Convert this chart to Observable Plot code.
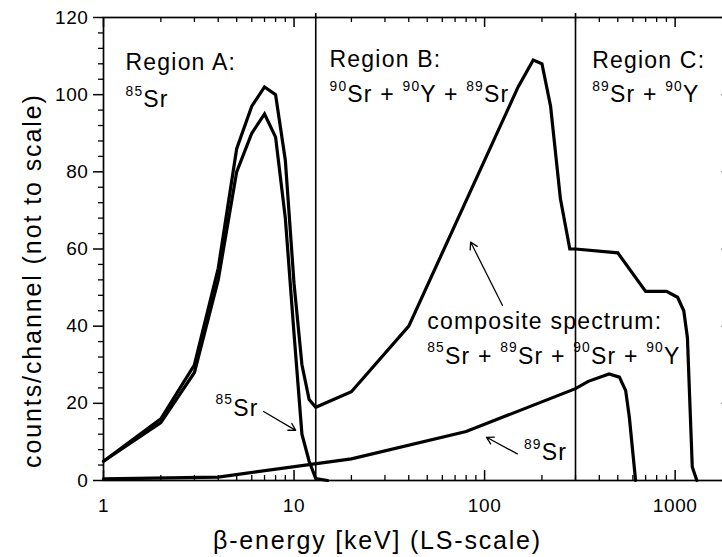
<!DOCTYPE html>
<html><head><meta charset="utf-8">
<script src="https://cdn.jsdelivr.net/npm/d3@7"></script>
<script src="https://cdn.jsdelivr.net/npm/@observablehq/plot@0.6"></script>
<style>body{margin:0;background:#fff}</style>
</head><body><div id="chart"></div>
<script>
// Composite spectrum 85Sr + 89Sr + 90Sr + 90Y
const compositeE = [1,2,3,4,5,6,7,8,9,10,11,12,13,20,40,150,180,200,222,250,280,300,500,700,900,1030,1110,1160,1230,1300];
const compositeC = [5,16,30,55,86,97,102,100,83,51,30,21,19,23,40,102,109,108,97,73,60,60,59,49,49,47.5,44,37,3.5,0];
// 85Sr spectrum
const sr85E = [1,2,3,4,5,6,7,8,9,10,11,12,13,15];
const sr85C = [5,15,28,52,80,90,95,89,68,38,12,5,0.5,0];
// 89Sr spectrum
const sr89E = [1,4,20,80,300,350,450,510,550,575,620];
const sr89C = [0.4,0.9,5.6,12.7,23.8,25.7,27.6,26.8,23.3,16.4,0];
// Region boundaries (keV)
const regionBounds = [13, 300];
// Ticks
const xMajor = [1, 10, 100, 1000];
const xMinor = [2,3,4,5,6,7,8,9,20,30,40,50,60,70,80,90,200,300,400,500,600,700,800,900];
const yMajor = [0, 20, 40, 60, 80, 100, 120];
const yMinor = d3.range(0, 121, 4).filter(v => v % 20 !== 0);
// Annotations
const labelText = ["Region A:", "^{85}Sr", "Region B:", "^{90}Sr + ^{90}Y + ^{89}Sr", "Region C:", "^{89}Sr + ^{90}Y",
  "composite spectrum:", "^{85}Sr + ^{89}Sr + ^{90}Sr + ^{90}Y", "^{85}Sr", "^{89}Sr"];
const labelE = [1.305, 1.305, 15.36, 15.36, 367, 367, 50, 50, 3.87, 160.9];
const labelC = [106.3, 96.8, 107.3, 98, 107, 98, 39.3, 30.2, 16.8, 5.2];
const arrowFromE = [6.92, 148.5, 124];
const arrowFromC = [17.9, 6.9, 45.4];
const arrowToE = [10.2, 102.4, 84.5];
const arrowToC = [13, 11.2, 61.8];
const xLabel = "β-energy [keV] (LS-scale)";
const yLabel = "counts/channel (not to scale)";
const xLabelAt = 27.4;
const yLabelAt = 51.8;

const W = 722, H = 557, mL = 103, mR = -10, mT = 17, mB = 77;
const frameH = H - mT - mB, frameW = W - mL - mR;
const FS = 23;

const lineData = [
  ...compositeE.map((e, i) => ({s: "composite", e, c: compositeC[i]})),
  ...sr85E.map((e, i) => ({s: "85Sr", e, c: sr85C[i]})),
  ...sr89E.map((e, i) => ({s: "89Sr", e, c: sr89C[i]}))
];
const labels = labelText.map((t, i) => ({t, e: labelE[i], c: labelC[i]}));
const arrows = arrowFromE.map((e, i) => ({x1: e, y1: arrowFromC[i], x2: arrowToE[i], y2: arrowToC[i]}));

const svg = Plot.plot({
  width: W, height: H, marginLeft: mL, marginRight: mR, marginTop: mT, marginBottom: mB,
  style: {fontFamily: "'Liberation Sans', Arial, Helvetica, sans-serif", background: "#fff", color: "#000"},
  x: {type: "log", domain: [1, 2000], range: [mL, W - mR]},
  y: {domain: [0, 120], range: [H - mB, mT]},
  marks: [
    Plot.axisY({ticks: yMajor, tickSize: 10, tickPadding: 5, fontSize: 19, tickFormat: d => String(d), label: null, strokeWidth: 1.5}),
    Plot.axisY({ticks: yMinor, tickSize: 5, tickFormat: () => "", label: null, strokeWidth: 1.3}),
    Plot.axisX({ticks: xMajor, tickSize: 0, tickPadding: 18, fontSize: 19, tickFormat: d => String(d), label: null}),
    Plot.ruleX(xMajor, {insetTop: frameH - 10, strokeWidth: 1.5}),
    Plot.ruleX(xMinor, {insetTop: frameH - 5, strokeWidth: 1.3}),
    Plot.ruleX(xMajor, {insetBottom: frameH - 10, strokeWidth: 1.5}),
    Plot.ruleX(xMinor, {insetBottom: frameH - 5, strokeWidth: 1.3}),
    Plot.ruleY(yMajor, {insetLeft: frameW - 11, strokeWidth: 1.5, stroke: "#999"}),
    Plot.frame({strokeWidth: 1.7}),
    Plot.ruleX(regionBounds, {insetTop: -4, strokeWidth: 1.6}),
    Plot.line(lineData, {x: "e", y: "c", z: "s", stroke: "#000", strokeWidth: 3.2, strokeLinejoin: "miter", strokeMiterlimit: 3}),
    Plot.arrow(arrows, {x1: "x1", y1: "y1", x2: "x2", y2: "y2", strokeWidth: 1.3, headLength: 9, bend: 0}),
    Plot.text(labels, {x: "e", y: "c", text: "t", textAnchor: "start", lineAnchor: "bottom", fontSize: FS}),
    Plot.text([xLabel], {x: () => xLabelAt, text: d => d, frameAnchor: "bottom", dy: 68, lineAnchor: "bottom", textAnchor: "middle", fontSize: 25}),
    Plot.text([yLabel], {y: () => yLabelAt, text: d => d, frameAnchor: "left", dx: -63, rotate: -90, lineAnchor: "bottom", textAnchor: "middle", fontSize: 25})
  ]
});

const root = d3.select(svg);
const textGroups = root.selectAll('g[aria-label="text"]').nodes();
d3.select(textGroups[0]).selectAll("text").attr("letter-spacing", 1.2).style("white-space", "pre");
d3.select(textGroups[1]).selectAll("text").attr("letter-spacing", 1.8);
d3.select(textGroups[2]).selectAll("text").attr("letter-spacing", 1.9);
root.selectAll('g[aria-label="y-axis tick label"] text, g[aria-label="x-axis tick label"] text').attr("letter-spacing", 0.6);

function supify(node, fs) {
  const t = node.textContent;
  if (!t.includes("^{")) return;
  const sel = d3.select(node);
  sel.text(null);
  const shift = 0.5 * fs;
  let up = false;
  for (const p of t.split(/(\^\{[^}]*\})/)) {
    if (!p) continue;
    const m = /^\^\{(.*)\}$/.exec(p);
    const ts = sel.append("tspan");
    if (m) {
      ts.text(m[1]).attr("font-size", 0.6 * fs);
      if (!up) { ts.attr("dy", -shift); up = true; }
    } else {
      ts.text(p);
      if (up) { ts.attr("dy", shift); up = false; }
    }
  }
}
d3.select(textGroups[0]).selectAll("text").each(function() { supify(this, FS); });

document.getElementById("chart").appendChild(svg);
</script>
</body></html>
